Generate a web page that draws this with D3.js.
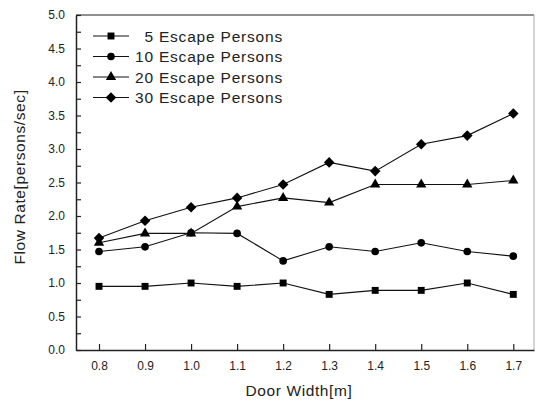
<!DOCTYPE html>
<html>
<head>
<meta charset="utf-8">
<script src="https://cdn.jsdelivr.net/npm/d3@7"></script>
<style>
  body { margin: 0; background: #fff; }
  svg { display: block; font-family: "Liberation Sans", Arial, sans-serif; }
</style>
</head>
<body>
<div class="chart"></div>
<script>
// door widths on the x axis
const doorWidths = [0.8, 0.9, 1.0, 1.1, 1.2, 1.3, 1.4, 1.5, 1.6, 1.7];
// flow rate, one array per group size
const persons5 = [0.95, 0.95, 1.0, 0.95, 1.0, 0.83, 0.89, 0.89, 1.0, 0.83];
const persons10 = [1.47, 1.54, 1.75, 1.74, 1.33, 1.54, 1.47, 1.6, 1.47, 1.4];
const persons20 = [1.6, 1.74, 1.74, 2.14, 2.27, 2.2, 2.47, 2.47, 2.47, 2.53];
const persons30 = [1.67, 1.93, 2.13, 2.27, 2.47, 2.8, 2.67, 3.07, 3.2, 3.53];
const seriesNames = ['5 Escape Persons', '10 Escape Persons', '20 Escape Persons', '30 Escape Persons'];
const yTicks = [0, 0.5, 1, 1.5, 2, 2.5, 3, 3.5, 4, 4.5, 5];
const yMinorTicks = [0.25, 0.75, 1.25, 1.75, 2.25, 2.75, 3.25, 3.75, 4.25, 4.75];

const W = 536, H = 401;
const margin = { top: 15, right: 2, bottom: 51, left: 76 };
const width = W - margin.left - margin.right;
const height = H - margin.top - margin.bottom;

const svg = d3.select('.chart').append('svg')
  .attr('width', W)
  .attr('height', H);

const g = svg.append('g')
  .attr('transform', `translate(${margin.left},${margin.top})`);

const x = d3.scaleLinear().domain([0.75, 1.745]).range([0, width]);
const y = d3.scaleLinear().domain([0, 5]).range([height, 0]);

// frame on top and right
g.append('line')
  .attr('x1', 0).attr('x2', width).attr('y1', 0).attr('y2', 0)
  .attr('stroke', '#222').attr('stroke-width', 1.2);
g.append('line')
  .attr('x1', width).attr('x2', width).attr('y1', 0).attr('y2', height)
  .attr('stroke', '#aaa').attr('stroke-width', 1);

// x axis, ticks pointing up
g.append('g')
  .attr('transform', `translate(0,${height})`)
  .call(d3.axisBottom(x).tickValues(doorWidths).tickFormat(d3.format('.1f'))
    .tickSizeInner(-6).tickSizeOuter(0).tickPadding(11));

// y axis, ticks pointing right
g.append('g')
  .call(d3.axisLeft(y).tickValues(yTicks).tickFormat(d3.format('.1f'))
    .tickSizeInner(-5).tickSizeOuter(0).tickPadding(11));
g.append('g')
  .call(d3.axisLeft(y).tickValues(yMinorTicks).tickFormat('')
    .tickSizeInner(-5).tickSizeOuter(0))
  .select('.domain').remove();

g.selectAll('.domain').attr('stroke', '#222').attr('stroke-width', 1.5);
g.selectAll('.tick line').attr('stroke', '#222').attr('stroke-width', 1.2);
g.selectAll('.tick text').attr('fill', '#222').style('font-size', '12px');

// axis titles
svg.append('text')
  .attr('x', 299).attr('y', 396)
  .attr('text-anchor', 'middle')
  .style('font-size', '15.5px')
  .style('letter-spacing', '0.6px')
  .attr('fill', '#222')
  .text('Door Width[m]');
svg.append('text')
  .attr('transform', 'translate(25,177) rotate(-90)')
  .attr('text-anchor', 'middle')
  .style('font-size', '15.5px')
  .style('letter-spacing', '0.6px')
  .attr('fill', '#222')
  .text('Flow Rate[persons/sec]');

// series
const allSeries = [persons5, persons10, persons20, persons30];
const symbols = [
  { type: d3.symbolSquare, size: 48, rot: 0 },
  { type: d3.symbolCircle, size: 46, rot: 0 },
  { type: d3.symbolTriangle, size: 46, rot: 0 },
  { type: d3.symbolSquare, size: 56, rot: 45 }
];

const line = d3.line()
  .x((d, i) => x(doorWidths[i]))
  .y(d => y(d));

allSeries.forEach((vals, k) => {
  g.append('path')
    .datum(vals)
    .attr('fill', 'none')
    .attr('stroke', '#111')
    .attr('stroke-width', 1.1)
    .attr('d', line);
  g.selectAll('.m' + k)
    .data(vals)
    .enter()
    .append('path')
    .attr('class', 'm' + k)
    .attr('d', d3.symbol().type(symbols[k].type).size(symbols[k].size))
    .attr('transform', (d, i) => `translate(${x(doorWidths[i])},${y(d)}) rotate(${symbols[k].rot})`)
    .attr('fill', '#000');
});

// legend
const legend = svg.append('g');
const rowY = [36, 56.5, 77, 97.5];
seriesNames.forEach((name, k) => {
  const row = legend.append('g').attr('transform', `translate(0,${rowY[k]})`);
  row.append('line')
    .attr('x1', 93).attr('x2', 129).attr('y1', 0).attr('y2', 0)
    .attr('stroke', '#111').attr('stroke-width', 1.1);
  row.append('path')
    .attr('d', d3.symbol().type(symbols[k].type).size(symbols[k].size))
    .attr('transform', `translate(111,0) rotate(${symbols[k].rot})`)
    .attr('fill', '#000');
  row.append('text')
    .attr('x', 283).attr('y', 5.5)
    .attr('text-anchor', 'end')
    .style('font-size', '15.5px')
    .style('letter-spacing', '0.8px')
    .attr('fill', '#222')
    .text(name);
});
</script>
</body>
</html>
